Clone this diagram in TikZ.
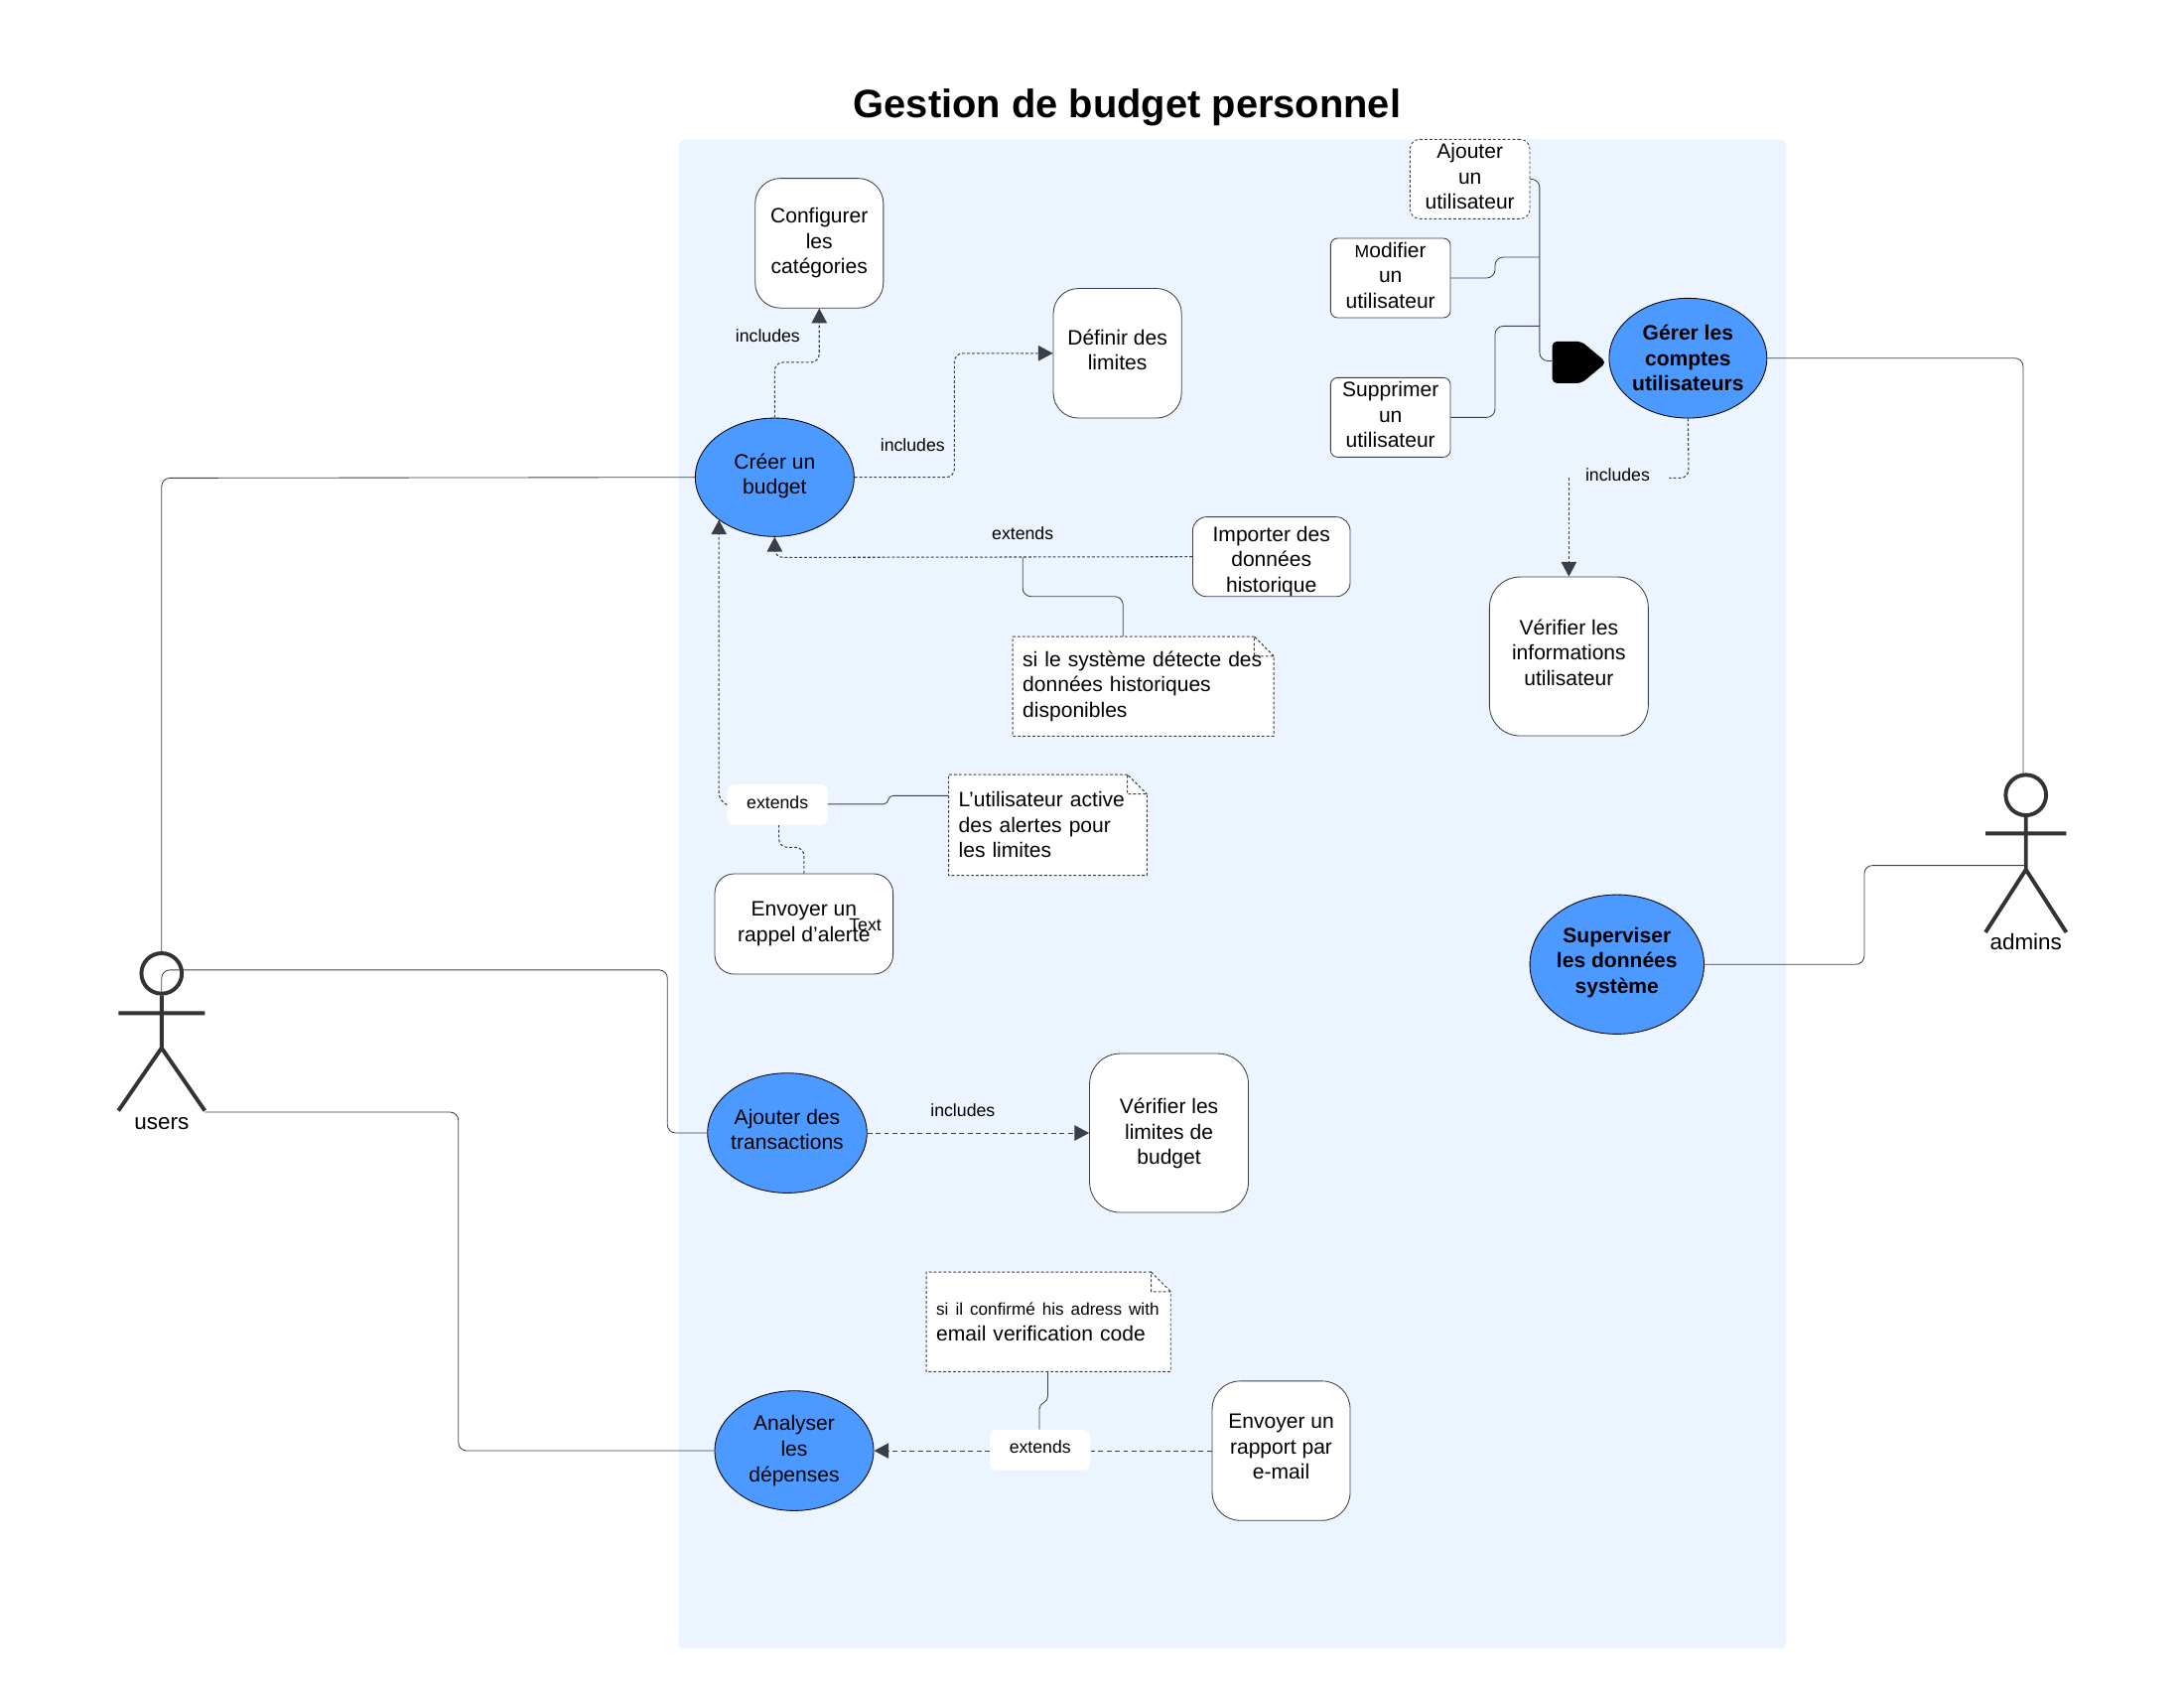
\documentclass[tikz,border=0pt]{standalone}
\usepackage{fontspec}
\setmainfont{Liberation Sans}
\usetikzlibrary{shapes.geometric,arrows.meta}
\definecolor{panelcol}{HTML}{ECF4FF}
\definecolor{usecol}{HTML}{4C9AFF}
\definecolor{linecol}{HTML}{3A3F47}
\definecolor{actorcol}{HTML}{333333}
\tikzset{
  body/.style={font=\fontsize{15}{18.2}\selectfont,text=black},
  small/.style={font=\fontsize{12.6}{18}\selectfont,text=black},
  box/.style={body,draw=linecol,line width=0.6pt,fill=white,align=center,inner sep=0pt,rounded corners=#1},
  box/.default=18pt,
  usecase/.style={body,shape=ellipse,draw=black,line width=0.6pt,fill=usecol,align=center,inner sep=0pt},
  notebox/.style={body,fill=white,align=left,inner xsep=7pt,inner ysep=0pt},
  tag/.style={small,fill=white,rounded corners=5pt,minimum width=72pt,minimum height=29pt,inner sep=0pt,text depth=4pt},
  lbl/.style={small,inner sep=0pt},
  wire/.style={draw=linecol,line width=0.6pt,rounded corners=6pt},
  dotwire/.style={wire,line width=0.75pt,dash pattern=on 2pt off 1.5pt},
  dashwire/.style={wire,line width=0.75pt,dash pattern=on 3.5pt off 2.5pt},
  tip/.style={-{Triangle[width=11pt,length=10.5pt]}},
  limb/.style={draw=actorcol,line width=2.8pt}
}
\newcommand{\notefold}[1]{%
  \fill[panelcol] ([xshift=-14pt]#1.north east) -- (#1.north east) -- ([yshift=-14pt]#1.north east) -- cycle;
  \draw[linecol,line width=0.7pt,dash pattern=on 2pt off 1.5pt] ([xshift=-14pt]#1.north east) -- (#1.north west) -- (#1.south west) -- (#1.south east) -- ([yshift=-14pt]#1.north east) -- ([xshift=-14pt,yshift=-14pt]#1.north east) -- ([xshift=-14pt]#1.north east) -- ([yshift=-14pt]#1.north east);
}
\begin{document}
\begin{tikzpicture}[x=1pt,y=-1pt]
\useasboundingbox (0,0) rectangle (1567.5,1211.2);
% panel and title
\fill[panelcol,rounded corners=4pt] (487,100) rectangle (1282,1183);
\node[font=\fontsize{28.4}{32}\selectfont\bfseries,inner sep=0pt] (title) at (809,77.5) {Gestion de budget personnel};
% use cases
\node[usecase,minimum width=114pt,minimum height=85pt,text depth=5pt] (creer) at (556,342.5) {Créer un\\budget};
\node[usecase,minimum width=113pt,minimum height=86pt,font=\fontsize{15}{18.2}\selectfont\bfseries] (gerer) at (1211.5,257) {Gérer les\\comptes\\utilisateurs};
\node[usecase,minimum width=114pt,minimum height=86pt,text depth=5pt] (trans) at (565,813) {Ajouter des\\transactions};
\node[usecase,minimum width=114pt,minimum height=86pt] (analyse) at (570,1041) {Analyser\\les\\dépenses};
\node[usecase,minimum width=125pt,minimum height=100pt,font=\fontsize{15}{18.2}\selectfont\bfseries,text depth=6pt] (superv) at (1160.5,692) {Superviser\\les données\\système};
% boxes
\node[box=18pt,minimum width=92pt,minimum height=93pt] (config) at (588,174.5) {Configurer\\les\\catégories};
\node[box=18pt,minimum width=92pt,minimum height=93pt,text depth=5pt] (limites) at (802,253.5) {Définir des\\limites};
\node[box=7pt,minimum width=86pt,minimum height=57pt,dash pattern=on 2pt off 1.5pt,text depth=4pt] (ajout) at (1055,128.5) {Ajouter\\un\\utilisateur};
\node[box=5pt,minimum width=86pt,minimum height=57pt,text depth=4pt] (modif) at (998,199.5) {{\fontsize{12.5}{18}\selectfont M}odifier\\un\\utilisateur};
\node[box=5pt,minimum width=86pt,minimum height=57pt,text depth=4pt] (suppr) at (998,299.5) {Supprimer\\un\\utilisateur};
\node[box=22pt,minimum width=114pt,minimum height=114pt,text depth=6pt] (verinfo) at (1126,471) {Vérifier les\\informations\\utilisateur};
\node[box=10pt,minimum width=113pt,minimum height=57pt,text height=54pt] (import) at (912.5,399.5) {Importer des\\données\\historique};
\node[box=14pt,minimum width=128pt,minimum height=72pt] (rappel) at (577,663) {Envoyer un\\rappel d’alerte};
\node[box=22pt,minimum width=114pt,minimum height=114pt,text depth=2pt] (verlim) at (839,813) {Vérifier les\\limites de\\budget};
\node[box=20pt,minimum width=99pt,minimum height=100pt,text depth=6pt] (rapport) at (919.5,1041) {Envoyer un\\rapport par\\e-mail};
\node[lbl] (textlbl) at (621,664) {Text};
% notes
\node[notebox,text width=173pt,minimum height=71pt] (note1) at (820.5,492.5) {si le système détecte des\\données historiques\\disponibles};
\notefold{note1}
\node[notebox,text width=128pt,minimum height=72pt] (note2) at (752,592) {L'utilisateur active\\des alertes pour\\les limites};
\notefold{note2}
\node[notebox,text width=161pt,minimum height=71pt] (note3) at (752.5,948.5) {\mbox{\fontsize{12.2}{17}\selectfont si il confirmé his adress with}\\email verification code};
\notefold{note3}
% tags and labels
\node[tag] (extA) at (558,577.5) {extends};
\node[tag] (extB) at (746.5,1040.5) {extends};
\node[lbl] (incA) at (551,241) {includes};
\node[lbl] (incB) at (655,319) {includes};
\node[lbl] (incC) at (1161,340.5) {includes};
\node[lbl] (incD) at (691,797) {includes};
\node[lbl] (extC) at (734,383) {extends};
% actors
\node[circle,draw=actorcol,line width=2.8pt,minimum size=29pt,inner sep=0pt] (usr) at (116,698.5) {};
\coordinate (usrhip) at (116,752);
\coordinate (usrL) at (85,797);
\coordinate (usrR) at (147,797);
\draw[limb] (usr.south) -- (usrhip) (85,727) -- (147,727) (usrL) -- (usrhip) -- (usrR);
\node[body,font=\fontsize{16}{18}\selectfont,inner sep=0pt] (usrname) at (116,806) {users};
\node[circle,draw=actorcol,line width=2.8pt,minimum size=29pt,inner sep=0pt] (adm) at (1454,570.5) {};
\coordinate (admhip) at (1454,624);
\coordinate (admL) at (1425,669);
\coordinate (admR) at (1483,669);
\draw[limb] (adm.south) -- (admhip) (1425,598) -- (1483,598) (admL) -- (admhip) -- (admR);
\node[body,font=\fontsize{16}{18}\selectfont,inner sep=0pt] (admname) at (1454,676) {admins};
% black blob
\coordinate (blob) at (1114,259);
\fill[black,rounded corners=3.5pt] (1114,245) -- (1135,245) -- (1153,260) -- (1135,275) -- (1114,275) -- cycle;
% solid connectors
\draw[wire] (usr.north) -- (116,343) -- (creer.west);
\draw[wire] (116,720) -- (116,696) -- (479,696) -- (479,813) -- (trans.west);
\draw[wire] (usrR) ++(0,1) -- (329,798) -- (329,1041) -- (analyse.west);
\draw[wire] (gerer.east) -- (1452,257) -- (1452,556);
\draw[wire] (superv.east) -- (1338,692) -- (1338,621) -- (1454,621);
\draw[wire] (ajout.east) -- (1105,128.5) -- (1105,259) -- (blob);
\draw[wire] (modif.east) -- (1073,199.5) -- (1073,184.5) -- (1105,184.5);
\draw[wire] (suppr.east) -- (1073,299.5) -- (1073,234) -- (1105,234);
\draw[wire] (note1.north -| 806,0) -- (806,428) -- (734,428) -- (734,400);
\draw[wire,rounded corners=3pt] (extA.east |- 0,577) -- (637,577) -- (638,571) -- (note2.west |- 0,571);
\draw[wire,rounded corners=3pt] (note3.south -| 752,0) -- (752,1005) -- (746,1008) -- (extB.north -| 746,0);
% dashed connectors
\draw[dotwire,tip] (creer.north) -- (556,260) -- (588,260) -- (config.south);
\draw[dotwire,tip] (creer.east) -- (685,342.5) -- (685,253.5) -- (limites.west);
\draw[dotwire,tip] (import.west) -- (556,400) -- (creer.south);
\coordinate (creerA) at (516,373);
\draw[dotwire,tip] (extA.west) -- (516,575) -- (creerA);
\draw[dotwire] (rappel.north) -- (577,608) -- (559,608) -- (extA.south -| 559,0);
\draw[dotwire] (gerer.south) -- (1212,343) -- (1198,343);
\draw[dotwire,tip] (verinfo.north |- 0,343) -- (verinfo.north);
\draw[dashwire,tip] (trans.east) -- (verlim.west);
\draw[dashwire] (rapport.west) -- (extB.east |- rapport.west);
\draw[dashwire,tip] (extB.west |- analyse.east) -- (analyse.east);
\end{tikzpicture}
\end{document}
